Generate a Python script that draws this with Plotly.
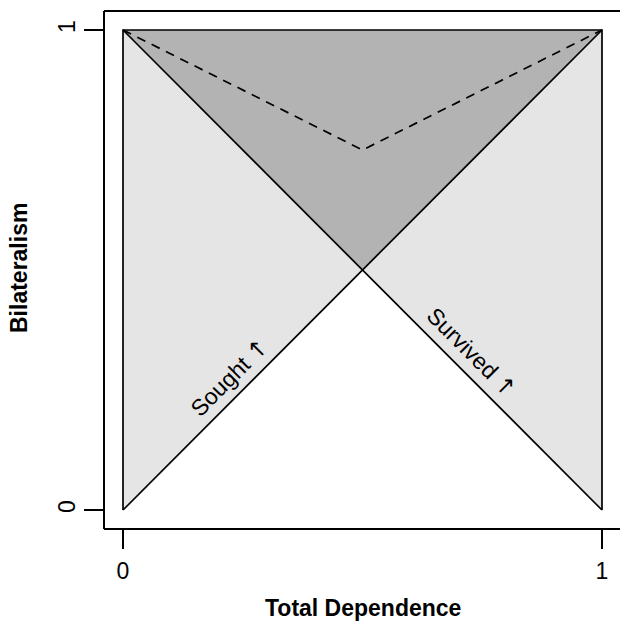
import plotly.graph_objects as go

# Data
left_tri_x = [0, 0, 0.5]
left_tri_y = [0, 1, 0.5]
right_tri_x = [1, 1, 0.5]
right_tri_y = [0, 1, 0.5]
top_tri_x = [0, 1, 0.5]
top_tri_y = [1, 1, 0.5]
diag1_x = [0, 1]
diag1_y = [0, 1]
diag2_x = [0, 1]
diag2_y = [1, 0]
dash_x = [0, 0.5, 1]
dash_y = [1, 0.75, 1]
edge_x = [0, 0, 1, 1]
edge_y = [0, 1, 1, 0]
tick_vals = [0, 1]
tick_text = ["0", "1"]
labels = ["Sought", "Survived"]
label_x = [0.223, 0.727]
label_y = [0.277, 0.329]
label_angle = [-45, 45]

LIGHT = "#E5E5E5"
DARK = "#B3B3B3"
FONT = "Liberation Sans, Arial, Helvetica, sans-serif"
FS = 23

fig = go.Figure()

def poly(xs, ys, color):
    fig.add_trace(go.Scatter(x=xs + [xs[0]], y=ys + [ys[0]], mode="lines", fill="toself",
                             fillcolor=color, line=dict(width=0), hoverinfo="skip",
                             showlegend=False))

poly(left_tri_x, left_tri_y, LIGHT)
poly(right_tri_x, right_tri_y, LIGHT)
poly(top_tri_x, top_tri_y, DARK)

for xs, ys in [(diag1_x, diag1_y), (diag2_x, diag2_y), (edge_x, edge_y)]:
    fig.add_trace(go.Scatter(x=xs, y=ys, mode="lines", line=dict(color="black", width=1.7),
                             hoverinfo="skip", showlegend=False))
fig.add_trace(go.Scatter(x=dash_x, y=dash_y, mode="lines",
                         line=dict(color="black", width=1.7, dash="9px,7px"),
                         hoverinfo="skip", showlegend=False))

for t, x, y, a in zip(labels, label_x, label_y, label_angle):
    txt = t + " <span style='font-family:DejaVu Sans'>\u2191</span>"
    fig.add_annotation(x=x, y=y, xref="x", yref="y", text=txt, textangle=a, showarrow=False,
                       font=dict(family=FONT, size=FS, color="black"))

# box (left, top, bottom) in paper coords
for x0, y0, x1, y1 in [(0, 0, 0, 1), (0, 1, 1.01, 1), (0, 0, 1.01, 0)]:
    fig.add_shape(type="line", xref="paper", yref="paper", x0=x0, y0=y0, x1=x1, y1=y1,
                  line=dict(color="black", width=2))

fig.add_annotation(x=(363 - 104) / 516, y=-(608 - 529) / 518, xref="paper", yref="paper",
                   text="<b>Total Dependence</b>", showarrow=False, yanchor="middle",
                   font=dict(family=FONT, size=FS, color="black"))
fig.add_annotation(x=-(104 - 19) / 516, y=(529 - 268) / 518, xref="paper", yref="paper",
                   text="<b>Bilateralism</b>", showarrow=False, textangle=-90, xanchor="center",
                   yanchor="middle", font=dict(family=FONT, size=FS, color="black"))

fig.update_layout(
    width=620, height=622,
    margin=dict(l=104, r=0, t=11, b=93),
    plot_bgcolor="white", paper_bgcolor="white",
    xaxis=dict(range=[-19/479, -19/479 + 516/479], tickvals=tick_vals, ticktext=tick_text,
               ticks="outside", ticklen=19, tickwidth=1.7, tickcolor="black",
               showgrid=False, zeroline=False, showline=False,
               tickfont=dict(family=FONT, size=FS, color="black"), ticklabelstandoff=2),
    yaxis=dict(range=[-19/480, 1 + 19/480], tickvals=tick_vals, ticktext=tick_text,
               ticks="outside", ticklen=19, tickwidth=1.7, tickcolor="black", tickangle=-90,
               showgrid=False, zeroline=False, showline=False,
               tickfont=dict(family=FONT, size=FS, color="black"), ticklabelstandoff=0),
)

fig.write_html("out.html")
